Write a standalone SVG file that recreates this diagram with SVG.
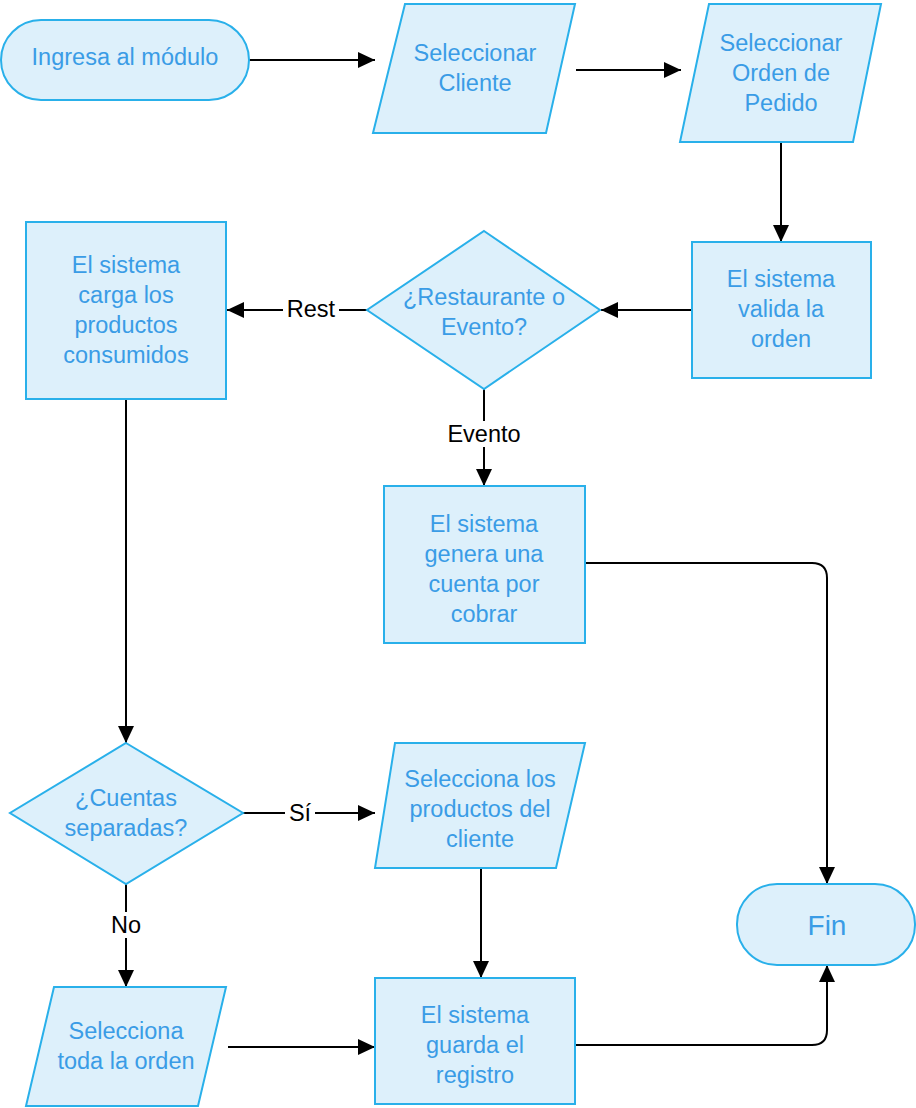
<svg xmlns="http://www.w3.org/2000/svg" width="916" height="1108" viewBox="0 0 916 1108">
  <style>
    .shape { fill: #ddf0fb; stroke: #29b0ea; stroke-width: 2; }
    .txt { font-family: "Liberation Sans", Arial, sans-serif; font-size: 23.5px; fill: #3a9ce6; text-anchor: middle; }
    .big { font-size: 28px; }
    .edge { fill: none; stroke: #000; stroke-width: 2; }
    .lbl { font-family: "Liberation Sans", Arial, sans-serif; font-size: 23.5px; fill: #000; text-anchor: middle; }
    .lblbg { fill: #fff; stroke: none; }
  </style>
  <defs>
    <marker id="arrow" markerUnits="userSpaceOnUse" markerWidth="18" markerHeight="16" refX="17" refY="8" orient="auto">
      <path d="M0,0 L17,8 L0,16 Z" fill="#000"/>
    </marker>
  </defs>

  <rect width="916" height="1108" fill="#fff"/>

  <!-- connectors -->
  <g id="connectors">
    <path class="edge" d="M249,60 H375" marker-end="url(#arrow)"/>
    <path class="edge" d="M576,70 H681" marker-end="url(#arrow)"/>
    <path class="edge" d="M781,142 V242" marker-end="url(#arrow)"/>
    <path class="edge" d="M692,310 H601" marker-end="url(#arrow)"/>
    <path class="edge" d="M367,310 H227" marker-end="url(#arrow)"/>
    <path class="edge" d="M484,389 V486" marker-end="url(#arrow)"/>
    <path class="edge" d="M585,563 H812 Q827,563 827,578 V884" marker-end="url(#arrow)"/>
    <path class="edge" d="M126,399 V743" marker-end="url(#arrow)"/>
    <path class="edge" d="M243,813 H375" marker-end="url(#arrow)"/>
    <path class="edge" d="M126,884 V987" marker-end="url(#arrow)"/>
    <path class="edge" d="M481,868 V978" marker-end="url(#arrow)"/>
    <path class="edge" d="M228,1047 H375" marker-end="url(#arrow)"/>
    <path class="edge" d="M575,1045 H812 Q827,1045 827,1030 V965" marker-end="url(#arrow)"/>

    <!-- edge labels -->
    <rect class="lblbg" x="283" y="296" width="56" height="26"/>
    <text class="lbl" x="311" y="317">Rest</text>
    <rect class="lblbg" x="444" y="421" width="80" height="26"/>
    <text class="lbl" x="484" y="442">Evento</text>
    <rect class="lblbg" x="285" y="800" width="30" height="26"/>
    <text class="lbl" x="300" y="821">Sí</text>
    <rect class="lblbg" x="108" y="912" width="36" height="26"/>
    <text class="lbl" x="126" y="933">No</text>
  </g>

  <g id="inicio">
    <rect class="shape" x="1" y="20" width="248" height="80" rx="40" ry="40"/>
    <text class="txt" x="125" y="65">Ingresa al módulo</text>
  </g>

  <g id="seleccionar-cliente">
    <polygon class="shape" points="405,4 575,4 546,133 373,133"/>
    <text class="txt" x="475" y="61">Seleccionar</text>
    <text class="txt" x="475" y="91">Cliente</text>
  </g>

  <g id="seleccionar-orden">
    <polygon class="shape" points="709,4 881,4 853,142 680,142"/>
    <text class="txt" x="781" y="51">Seleccionar</text>
    <text class="txt" x="781" y="81">Orden de</text>
    <text class="txt" x="781" y="111">Pedido</text>
  </g>

  <g id="valida-orden">
    <rect class="shape" x="692" y="242" width="179" height="136"/>
    <text class="txt" x="781" y="287">El sistema</text>
    <text class="txt" x="781" y="317">valida la</text>
    <text class="txt" x="781" y="347">orden</text>
  </g>

  <g id="restaurante-evento">
    <polygon class="shape" points="484,231 600,310 484,389 367,310"/>
    <text class="txt" x="484" y="305">¿Restaurante o</text>
    <text class="txt" x="484" y="335">Evento?</text>
  </g>

  <g id="carga-productos">
    <rect class="shape" x="26" y="222" width="200" height="177"/>
    <text class="txt" x="126" y="273">El sistema</text>
    <text class="txt" x="126" y="303">carga los</text>
    <text class="txt" x="126" y="333">productos</text>
    <text class="txt" x="126" y="363">consumidos</text>
  </g>

  <g id="cuenta-por-cobrar">
    <rect class="shape" x="384" y="486" width="201" height="157"/>
    <text class="txt" x="484" y="532">El sistema</text>
    <text class="txt" x="484" y="562">genera una</text>
    <text class="txt" x="484" y="592">cuenta por</text>
    <text class="txt" x="484" y="622">cobrar</text>
  </g>

  <g id="cuentas-separadas">
    <polygon class="shape" points="126,743 243,813 126,884 10,813"/>
    <text class="txt" x="126" y="806">¿Cuentas</text>
    <text class="txt" x="126" y="836">separadas?</text>
  </g>

  <g id="selecciona-productos">
    <polygon class="shape" points="395,743 585,743 556,868 375,868"/>
    <text class="txt" x="480" y="787">Selecciona los</text>
    <text class="txt" x="480" y="817">productos del</text>
    <text class="txt" x="480" y="847">cliente</text>
  </g>

  <g id="selecciona-toda">
    <polygon class="shape" points="54,987 226,987 198,1106 26,1106"/>
    <text class="txt" x="126" y="1039">Selecciona</text>
    <text class="txt" x="126" y="1069">toda la orden</text>
  </g>

  <g id="guarda-registro">
    <rect class="shape" x="375" y="978" width="200" height="126"/>
    <text class="txt" x="475" y="1023">El sistema</text>
    <text class="txt" x="475" y="1053">guarda el</text>
    <text class="txt" x="475" y="1083">registro</text>
  </g>

  <g id="fin">
    <rect class="shape" x="737" y="884" width="178" height="81" rx="40" ry="40"/>
    <text class="txt big" x="827" y="935">Fin</text>
  </g>
</svg>
